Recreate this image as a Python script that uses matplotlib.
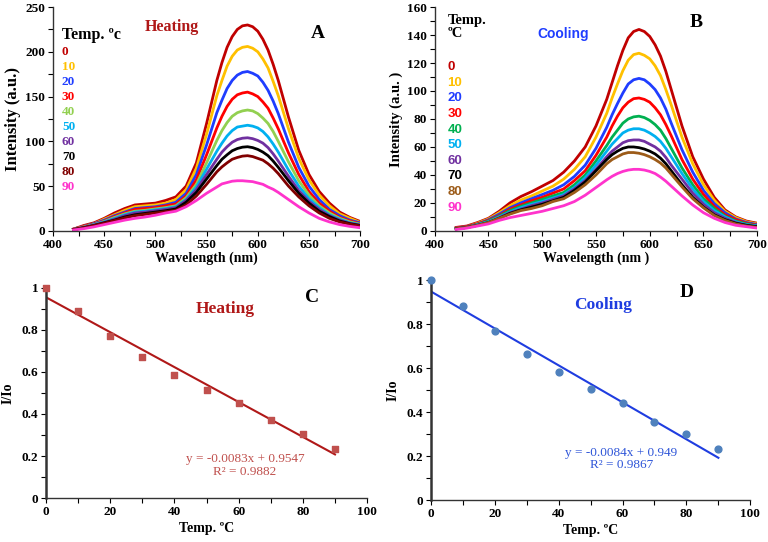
import numpy as np
import matplotlib
matplotlib.use("Agg")
import matplotlib.pyplot as plt
from matplotlib.ticker import MultipleLocator

plt.rcParams['font.family'] = ['Liberation Serif', 'DejaVu Serif']

# ---- data -------------------------------------------------------------
wavelength = [420, 430, 440, 450, 460, 470, 480, 490, 500, 510, 520, 530, 540, 550, 560,
              565, 570, 575, 580, 585, 590, 595, 600, 605, 610, 615, 620,
              630, 640, 650, 660, 670, 680, 690, 700]
temps = [0, 10, 20, 30, 40, 50, 60, 70, 80, 90]

heating_spectra = [
    [2, 6, 9, 14, 20, 25, 29, 30, 31, 34, 38, 50, 76, 120, 168,
     188, 205, 217, 225, 229, 230, 228, 223, 214, 202, 186, 168,
     127, 90, 63, 44, 31, 21, 15, 10.5],
    [2, 5, 8, 13, 18, 23, 27, 28, 29, 31, 35, 46, 70, 108, 151,
     168, 184, 195, 202, 205, 206, 204, 200, 192, 182, 167, 151,
     114, 81, 57, 40, 28, 19, 14, 9.5],
    [2, 5, 8, 12, 17, 21, 25, 26, 27, 29, 32, 42, 63, 96, 132,
     146, 159, 168, 174, 177, 178, 176, 173, 166, 157, 145, 131,
     99, 71, 50, 35, 24, 17, 12, 9],
    [2, 5, 7.5, 11, 16, 20, 24, 25, 26, 28, 30, 39, 57, 85, 115,
     128, 139, 147, 152, 154, 155, 153, 150, 144, 137, 126, 114,
     87, 63, 44, 31, 22, 15, 11, 8],
    [1.5, 4.5, 7, 10.5, 15, 19, 22, 23, 24.5, 26, 28, 37, 52, 76, 101,
     112, 121, 128, 132, 134, 135, 134, 131, 126, 120, 111, 100,
     77, 56, 40, 28, 20, 14, 10, 7.5],
    [1.5, 4, 7, 10, 14, 18, 21, 22, 23.5, 25, 27, 35, 49, 69, 89,
     98, 106, 112, 116, 117, 118, 117, 115, 111, 105, 97, 88,
     68, 50, 36, 26, 18, 13, 9, 7],
    [1.5, 4, 6.5, 9.5, 13, 17, 20, 21, 22.5, 24, 26, 34, 46, 63, 80,
     88, 94, 99, 102, 103.5, 104, 103, 101, 98, 93, 86, 78,
     61, 45, 33, 24, 17, 12, 8.5, 6.5],
    [1.5, 3.5, 6, 9, 12, 15.5, 18, 19.5, 21, 22.5, 24.5, 32, 43, 58, 73,
     80, 85, 89.5, 92, 93.5, 94, 93, 91, 88, 84, 78, 71,
     56, 42, 31, 22, 16, 11, 8, 6],
    [1.5, 3.5, 6, 8.5, 11.5, 14.5, 17, 18.5, 20, 21.5, 23, 29, 39, 52, 66,
     71.5, 76, 80, 82, 83.5, 84, 83, 81, 79, 75, 70, 64,
     50, 38, 28, 20, 14, 10, 7.5, 5.5],
    [1, 2.5, 4.5, 7, 9.5, 12, 14, 15.5, 17.5, 20, 22, 27, 34, 42, 49,
     52.5, 54, 55.5, 56, 56, 55.5, 55, 53.5, 52, 49, 46.5, 43,
     35, 27, 20, 14, 10, 7, 5, 3.5],
]

cooling_spectra = [
    [2.5, 3.5, 6, 9, 14, 20, 24.5, 28, 32, 36, 42, 50, 60, 75, 94,
     106, 118, 129, 138, 142.5, 144, 142.5, 139, 133, 125, 114, 101,
     75, 53, 37, 24, 15, 10, 7, 5.5],
    [2, 3, 5.5, 8.5, 13, 18, 22, 25, 28.5, 32, 37, 44, 53, 67, 84,
     95, 105, 114.5, 122, 126, 127, 125.5, 123, 118, 111, 101, 90,
     67, 48, 33, 22, 14, 9.5, 6.5, 5],
    [2, 3, 5, 8, 12, 16.5, 20, 23, 26, 29, 33, 39, 47, 59, 74,
     83, 91, 98.5, 105, 108, 109, 108, 105, 101, 95, 87, 77,
     58, 42, 29, 19.5, 13, 8.5, 6, 4.5],
    [2, 3, 5, 7.5, 11, 15.5, 18.5, 21.5, 24, 27, 30, 36, 43, 54, 67,
     75, 82, 88, 92, 94.5, 95, 94, 92, 88, 83, 76, 68,
     51, 37, 26, 17.5, 11.5, 8, 5.5, 4],
    [1.5, 2.5, 4.5, 7, 10.5, 14.5, 17.5, 20, 22.5, 25, 27.5, 33, 40, 50, 61,
     67, 72, 77, 80, 81.5, 82, 81, 79, 76, 72, 66, 59,
     45, 33, 23, 16, 10.5, 7, 5, 3.5],
    [1.5, 2.5, 4.5, 6.5, 10, 13.5, 16.5, 19, 21, 23.5, 26, 31, 38, 47, 57,
     62, 66, 70, 72, 73, 73, 72, 70, 67.5, 64, 59, 53,
     41, 30, 21, 14.5, 10, 6.5, 4.5, 3.5],
    [1.5, 2.5, 4, 6, 9.5, 13, 15.5, 18, 20, 22.5, 25, 30, 36, 44, 53,
     57, 60, 63, 64.5, 65, 65, 64, 62, 60, 57, 52.5, 47,
     37, 27, 19, 13, 9, 6, 4, 3],
    [1.5, 2.5, 4, 6, 9, 12.5, 15, 17, 19, 21.5, 24, 29, 35, 43, 51,
     54.5, 57, 59, 60, 60, 59.5, 58.5, 57, 55, 52, 48, 43,
     33, 24, 17, 11.5, 8, 5.5, 4, 3],
    [1.5, 2.5, 4, 6, 9, 12, 14.5, 16, 18, 21, 23, 27.5, 33, 40, 48,
     51, 53, 55, 56, 56, 55.5, 54.5, 53, 51, 48.5, 45, 40.5,
     31.5, 23, 16.5, 11, 7.5, 5, 3.5, 2.5],
    [1, 2, 3.5, 5, 7.5, 9.5, 11, 12.5, 14, 16, 18, 21, 25.5, 31, 36.5,
     39, 41, 42.5, 43.5, 44, 44, 43.5, 42.5, 41, 38.5, 35.5, 32,
     25, 18.5, 13, 9, 6, 4, 3, 2],
]

heating_colors = ['#C00000', '#FFC000', '#1F3DFF', '#FF0000', '#92D050',
                  '#00B0F0', '#7030A0', '#000000', '#800000', '#FF33CC']
cooling_colors = ['#C00000', '#FFC000', '#1F3DFF', '#FF0000', '#00B050',
                  '#00B0F0', '#7030A0', '#000000', '#9C5B18', '#FF33CC']

ratio_temps = [0, 10, 20, 30, 40, 50, 60, 70, 80, 90]
heating_ratio = [1.0, 0.89, 0.773, 0.672, 0.583, 0.514, 0.453, 0.372, 0.307, 0.233]
cooling_ratio = [1.0, 0.883, 0.771, 0.666, 0.582, 0.505, 0.44, 0.357, 0.302, 0.232]
heating_fit = (-0.0083, 0.9547, 0.9882)
cooling_fit = (-0.0084, 0.949, 0.9867)

fig = plt.figure(figsize=(7.68, 5.42), dpi=100)


def style_axes(ax, labelsize=9.5):
    for side in ['top', 'right']:
        ax.spines[side].set_visible(False)
    for side in ['left', 'bottom']:
        ax.spines[side].set_linewidth(1.0)
        ax.spines[side].set_color('#333333')
    ax.tick_params(which='both', direction='out', length=3.5, width=0.8,
                   labelsize=labelsize, pad=2)
    for lab in ax.get_xticklabels() + ax.get_yticklabels():
        lab.set_fontweight('bold')


def spectra_panel(rect, spectra, colors, ymax, ystep, yminor):
    ax = fig.add_axes(rect)
    for values, col in zip(spectra, colors):
        ax.plot(wavelength, values, color=col, lw=2, solid_joinstyle='round')
    ax.set_xlim(400, 700)
    ax.set_ylim(0, ymax)
    ax.xaxis.set_major_locator(MultipleLocator(50))
    ax.xaxis.set_minor_locator(MultipleLocator(25))
    ax.yaxis.set_major_locator(MultipleLocator(ystep))
    ax.yaxis.set_minor_locator(MultipleLocator(yminor))
    style_axes(ax)
    return ax


# ---- panel A ---------------------------------------------------------
axA = spectra_panel([0.069, 0.574, 0.400, 0.413], heating_spectra, heating_colors, 250, 50, 25)
axA.set_ylabel('Intensity (a.u.)', fontsize=12, fontweight='bold', labelpad=3)
axA.set_xlabel('Wavelength (nm)', fontsize=10, fontweight='bold', labelpad=1)
axA.text(0.029, 0.875, 'Temp. ºc', transform=axA.transAxes, fontsize=11.5,
         fontweight='bold', va='center')
for i, (t, col) in enumerate(zip(temps, heating_colors)):
    axA.text(0.029, 0.80 - i * 0.067, str(t), transform=axA.transAxes, color=col,
             fontsize=9.5, fontweight='bold', va='center')
axA.text(0.388, 0.91, 'Heating', transform=axA.transAxes, color='#B01818',
         fontsize=11.5, fontweight='bold', ha='center', va='center')
axA.text(0.863, 0.884, 'A', transform=axA.transAxes, fontsize=14,
         fontweight='bold', ha='center', va='center')

# ---- panel B ---------------------------------------------------------
axB = spectra_panel([0.566, 0.574, 0.420, 0.413], cooling_spectra, cooling_colors, 160, 20, 10)
axB.set_ylabel('Intensity (a.u. )', fontsize=10.5, fontweight='bold', labelpad=3)
axB.set_xlabel('Wavelength (nm )', fontsize=10, fontweight='bold', labelpad=1)
axB.text(0.04, 0.942, 'Temp.', transform=axB.transAxes, fontsize=10.5,
         fontweight='bold', va='center')
axB.text(0.04, 0.88, 'ºC', transform=axB.transAxes, fontsize=10.5,
         fontweight='bold', va='center')
for i, (t, col) in enumerate(zip(temps, cooling_colors)):
    axB.text(0.04, 0.732 - i * 0.0698, str(t), transform=axB.transAxes, color=col,
             fontsize=9.5, fontweight='bold', va='center', family='Liberation Sans')
axB.text(0.398, 0.88, 'Cooling', transform=axB.transAxes, color='#1F3DFF',
         fontsize=10, fontweight='bold', ha='center', va='center', family='Liberation Sans')
axB.text(0.81, 0.93, 'B', transform=axB.transAxes, fontsize=14,
         fontweight='bold', ha='center', va='center')


# ---- panels C / D ----------------------------------------------------
def ratio_panel(rect, ratios, fit, marker, mcolor, lcolor, tcolor, eqcolor, label,
                letter, label_pos, letter_pos, eq_pos):
    ax = fig.add_axes(rect)
    slope, intercept, r2 = fit
    xs = np.array([ratio_temps[0], ratio_temps[-1]])
    ax.plot(xs, slope * xs + intercept, color=lcolor, lw=1.5, zorder=2)
    ax.scatter(ratio_temps, ratios, marker=marker, s=24, color=mcolor, zorder=3,
               clip_on=False)
    ax.set_xlim(0, 100)
    ax.set_ylim(0, 1)
    ax.xaxis.set_major_locator(MultipleLocator(20))
    ax.xaxis.set_minor_locator(MultipleLocator(10))
    ax.yaxis.set_major_locator(MultipleLocator(0.2))
    ax.yaxis.set_minor_locator(MultipleLocator(0.1))
    ax.yaxis.set_major_formatter(plt.FuncFormatter(lambda v, p: f'{v:g}'))
    style_axes(ax)
    ax.spines['left'].set_linewidth(1.8)
    ax.set_ylabel('I/Io', fontsize=10, fontweight='bold', labelpad=5)
    ax.set_xlabel('Temp. ºC', fontsize=10, fontweight='bold', labelpad=3)
    ax.text(*label_pos, label, transform=ax.transAxes, color=tcolor, fontsize=12.5,
            fontweight='bold', ha='center', va='center')
    ax.text(*letter_pos, letter, transform=ax.transAxes, fontsize=14,
            fontweight='bold', ha='center', va='center')
    sign = '-' if slope < 0 else ''
    ax.text(eq_pos[0], eq_pos[1],
            f'y = {sign}{abs(slope):g}x + {intercept:g}\nR² = {r2:g}',
            transform=ax.transAxes, color=eqcolor, fontsize=9.5, ha='center',
            va='center', linespacing=1.05)
    return ax


ratio_panel([0.060, 0.081, 0.418, 0.388], heating_ratio, heating_fit, 's',
            '#C0504D', '#B01818', '#B01818', '#C0504D', 'Heating', 'C',
            (0.557, 0.90), (0.829, 0.952), (0.62, 0.155))
ratio_panel([0.561, 0.077, 0.416, 0.406], cooling_ratio, cooling_fit, 'o',
            '#4F81BD', '#1F3DE0', '#1F3DE0', '#2E55D8', 'Cooling', 'D',
            (0.54, 0.886), (0.80, 0.945), (0.596, 0.187))

fig.savefig('out.png', dpi=100)
